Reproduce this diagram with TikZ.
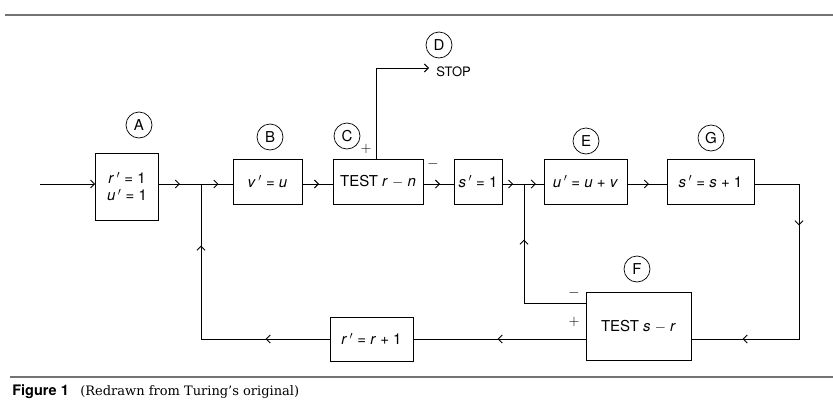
\documentclass[tikz,border=0pt]{standalone}
\usepackage{fontspec}
\newfontfamily\hv{TeX Gyre Heros}
\newfontfamily\capserif{DejaVu Serif}
\usetikzlibrary{arrows.meta,decorations.markings}
\newcommand{\vr}[1]{\textit{#1}}
\begin{document}
\begin{tikzpicture}[x=1pt,y=-1pt,
  >={Straight Barb[length=4pt,width=8pt,line width=0.9pt]},
  line width=0.7pt,
  box/.style={draw,line width=0.7pt,inner sep=0pt,font=\hv\fontsize{15}{17}\selectfont,align=center},
  lbl/.style={circle,draw,line width=0.7pt,minimum size=26pt,inner sep=0pt,font=\hv\fontsize{15}{15}\selectfont},
  sgn/.style={font=\fontsize{15}{15}\selectfont,inner sep=0pt},
  tipat/.style={postaction={decorate,decoration={markings,mark=at position #1 with {\arrow{>}}}}},
  rule/.style={draw=black!55,line width=1.4pt}]
\useasboundingbox (0,0) rectangle (833,402);
% rules
\draw[rule] (5,15) -- (833,15);
\draw[rule] (10,377) -- (833,377);
% boxes
\node[box,minimum width=63pt,minimum height=67pt] (A) at (127,186.5) {\vr{r}\,$'$ = 1\\\vr{u}\,$'$ = 1};
\node[box,minimum width=69pt,minimum height=45pt] (B) at (267.5,181.5) {\vr{v}\,$'$ = \vr{u}};
\node[box,minimum width=90pt,minimum height=45pt] (C) at (378,181.5) {TEST \vr{r} $-$ \vr{n}};
\node[box,minimum width=48pt,minimum height=45pt] (S) at (478,181.5) {\vr{s}\,$'$ = 1};
\node[box,minimum width=83pt,minimum height=45pt] (E) at (585.5,181.5) {\vr{u}\,$'$ = \vr{u} + \vr{v}};
\node[box,minimum width=87pt,minimum height=45pt] (G) at (710.5,181.5) {\vr{s}\,$'$ = \vr{s} + 1};
\node[box,minimum width=105pt,minimum height=68pt] (F) at (638.5,326) {TEST \vr{s} $-$ \vr{r}};
\node[box,minimum width=83pt,minimum height=44pt] (R) at (371.5,339) {\vr{r}\,$'$ = \vr{r} + 1};
% circled labels
\node[lbl] (cA) at (139,125) {A};
\node[lbl] (cB) at (270,137) {B};
\node[lbl] (cC) at (347,136) {C};
\node[lbl] (cD) at (439,45) {D};
\node[lbl] (cE) at (586,141) {E};
\node[lbl] (cG) at (711,138) {G};
\node[lbl] (cF) at (637,269) {F};
\node[font=\hv\fontsize{13}{13}\selectfont,inner sep=0pt,anchor=west] (stop) at (436,72) {STOP};
% signs
\node[sgn] (pC) at (366,149) {$+$};
\node[sgn] (mC) at (433,164) {$-$};
\node[sgn] (mF) at (574,293) {$-$};
\node[sgn] (pF) at (574,322) {$+$};
% coordinates
\coordinate (in) at (40,184);
\coordinate (j1) at (201,184);
\coordinate (j2) at (524,184);
\coordinate (cr1) at (799,184);
\coordinate (cr2) at (799,339);
\coordinate (up) at (376,68);
\coordinate (stopend) at (429,68);
\coordinate (rl) at (201,339);
% connectors
\draw[->] (in) -- (in -| A.west);
\draw[tipat=0.5] (A.east |- j1) -- (j1);
\draw[tipat=0.55] (j1) -- (B.west |- j1);
\draw[tipat=0.55] (B.east |- j1) -- (C.west |- j1);
\draw[tipat=0.55] (C.east |- j1) -- (S.west |- j1);
\draw[tipat=0.5] (S.east |- j1) -- (j2);
\draw[tipat=0.6] (j2) -- (E.west |- j1);
\draw[tipat=0.55] (E.east |- j1) -- (G.west |- j1);
\draw[tipat=86pt,tipat=256pt] (G.east |- cr1) -- (cr1) -- (cr2) -- (F.east |- cr2);
\draw[->] (C.north -| up) -- (up) -- (stopend);
\draw[tipat=125pt] (F.west |- 0,303) -- (524,303) -- (j2);
\draw[tipat=88pt] (F.west |- R.east) -- (R.east);
\draw[tipat=64pt,tipat=222pt] (R.west) -- (rl) -- (j1);
% caption
\node[anchor=west,inner sep=0pt,font=\hv\bfseries\fontsize{14.5}{14.5}\selectfont] (fig) at (12,392) {Figure 1};
\node[anchor=west,inner sep=0pt,font=\capserif\fontsize{13}{13}\selectfont] (cap) at (80,392) {(Redrawn from Turing’s original)};
\end{tikzpicture}
\end{document}
